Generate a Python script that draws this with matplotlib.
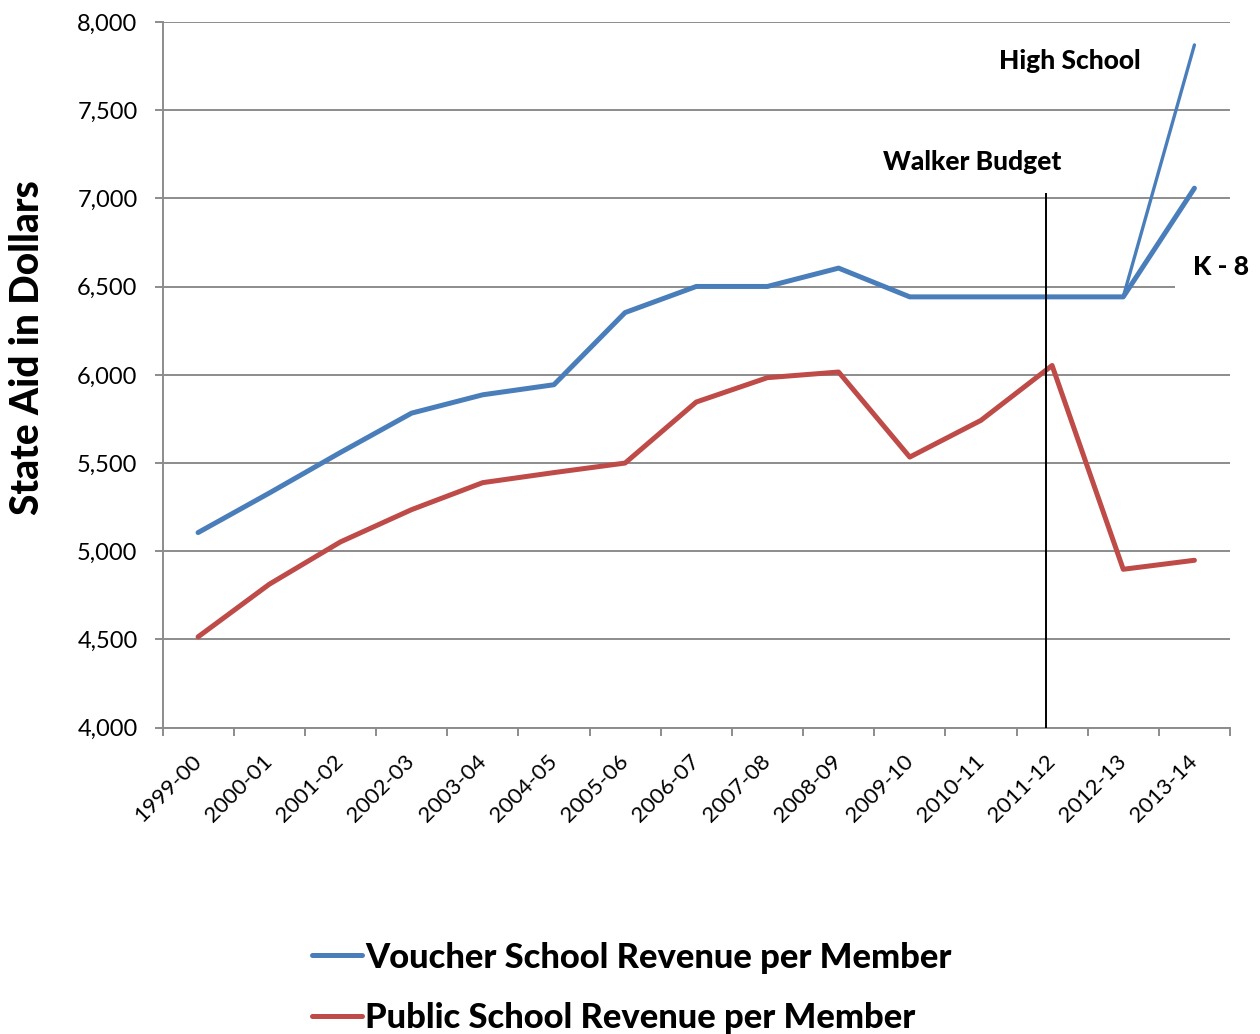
import matplotlib
matplotlib.use("Agg")
import matplotlib.pyplot as plt
import numpy as np

plt.rcParams['font.family'] = ['Lato', 'DejaVu Sans']

years = ["1999-00", "2000-01", "2001-02", "2002-03", "2003-04", "2004-05",
         "2005-06", "2006-07", "2007-08", "2008-09", "2009-10", "2010-11",
         "2011-12", "2012-13", "2013-14"]

voucher_k8 = [5106, 5330, 5560, 5783, 5887, 5944, 6353, 6501, 6501, 6605,
              6442, 6442, 6442, 6442, 7058]
voucher_hs = [None] * 13 + [6442, 7870]
public = [4515, 4813, 5053, 5236, 5389, 5446, 5500, 5846, 5984, 6016,
          5534, 5742, 6053, 4898, 4949]

y_ticks = [4000, 4500, 5000, 5500, 6000, 6500, 7000, 7500, 8000]
walker_year = 11.91
walker_top = 7025

BLUE = "#4a7ebb"
RED = "#be4b48"
GRID = "#8c8c8c"
HEAVY = 'black'

fig = plt.figure(figsize=(12.6, 10.34), dpi=100)
ax = fig.add_axes([162.5 / 1260, 1 - 727.7 / 1034, (1230 - 162.5) / 1260, (727.7 - 22) / 1034])

x = np.arange(len(years))
hs = np.array([np.nan if v is None else v for v in voucher_hs], dtype=float)

ax.plot(x, voucher_k8, color=BLUE, lw=3.6, solid_capstyle='round', solid_joinstyle='round',
        zorder=3, label="Voucher School Revenue per Member")
ax.plot(x, hs, color=BLUE, lw=2.4, solid_capstyle='round', zorder=3)
ax.plot(x, public, color=RED, lw=3.6, solid_capstyle='round', solid_joinstyle='round',
        zorder=3, label="Public School Revenue per Member")

ax.plot([walker_year, walker_year], [4000, walker_top], color="black", lw=1.4, zorder=4)

ax.set_xlim(-0.5, len(years) - 0.5)
ax.set_ylim(4000, 8000)
ax.set_yticks(y_ticks)
ax.set_yticklabels([f"{v:,}" for v in y_ticks], fontsize=17)
ax.yaxis.grid(True, color=GRID, lw=1.4)
ax.set_axisbelow(True)

ax.set_xticks(x)
ax.set_xticklabels(years, fontsize=16, rotation=45, ha='right', va='center',
                   rotation_mode='anchor')
ax.set_xticks(np.arange(len(years) + 1) - 0.5, minor=True)
ax.tick_params(axis='x', which='major', length=0, pad=22)
ax.tick_params(axis='x', which='minor', length=6, width=1.4, color=GRID)
ax.tick_params(axis='y', length=6, width=1.4, color=GRID, pad=12)

for side in ('top', 'right'):
    ax.spines[side].set_visible(False)
for side in ('left', 'bottom'):
    ax.spines[side].set_color(GRID)
    ax.spines[side].set_linewidth(1.4)

ax.text(12.25, 7780, "High School", fontsize=19, fontweight=HEAVY, ha='center', va='center')
ax.text(10.87, 7207, "Walker Budget", fontsize=19, fontweight=HEAVY, ha='center', va='center')
ax.text(14.37, 6612, "K - 8", fontsize=19, fontweight=HEAVY, ha='center', va='center',
        zorder=2, bbox=dict(facecolor='white', edgecolor='none', pad=13))

fig.text(28 / 1260, 1 - 347.5 / 1034, "State Aid in Dollars", rotation=90,
         fontsize=28, fontweight=HEAVY, ha='center', va='center')

leg = fig.legend(loc='center left', bbox_to_anchor=(281 / 1260, 1 - 988 / 1034),
                 frameon=False, handlelength=1.45, handletextpad=0.1, labelspacing=0.84,
                 prop={'size': 24.8, 'weight': HEAVY})

fig.savefig("out.png", dpi=100, facecolor='white')
